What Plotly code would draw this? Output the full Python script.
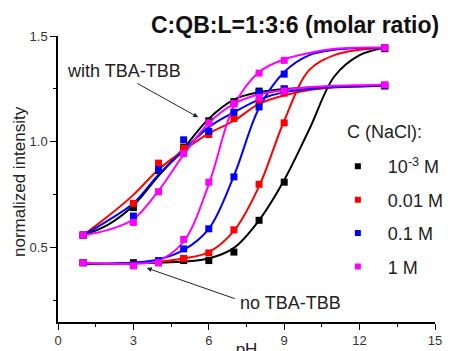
import plotly.graph_objects as go

# measured points
ph = [1, 3, 4, 5, 6, 7, 8, 9, 13]

# with TBA-TBB (upper set)
with_black = [0.56, 0.69, 0.865, 0.975, 1.10, 1.19, 1.24, 1.25, 1.265]
with_red = [0.56, 0.71, 0.90, 0.97, 1.035, 1.11, 1.19, 1.23, 1.265]
with_blue = [0.56, 0.65, 0.87, 1.01, 1.05, 1.14, 1.235, 1.25, 1.265]
with_magenta = [0.56, 0.62, 0.765, 0.945, 1.09, 1.18, 1.21, 1.24, 1.27]

# no TBA-TBB (lower set)
no_black = [0.43, 0.43, 0.43, 0.44, 0.44, 0.48, 0.63, 0.81, 1.44]
no_red = [0.43, 0.42, 0.43, 0.45, 0.476, 0.585, 0.80, 1.09, 1.445]
no_blue = [0.43, 0.42, 0.44, 0.495, 0.59, 0.835, 1.165, 1.32, 1.445]
no_magenta = [0.43, 0.415, 0.43, 0.54, 0.81, 1.18, 1.325, 1.385, 1.445]

# fitted curves, values at each integer pH
ph_fit = [1, 2, 3, 4, 5, 6, 7, 8, 9, 10, 11, 12, 13]
fit_with_black = [0.56, 0.61, 0.70, 0.84, 0.97, 1.11, 1.20, 1.235, 1.25, 1.257, 1.261, 1.263, 1.265]
fit_with_red = [0.56, 0.65, 0.75, 0.87, 0.96, 1.04, 1.10, 1.18, 1.22, 1.245, 1.257, 1.262, 1.265]
fit_with_blue = [0.56, 0.63, 0.71, 0.845, 0.96, 1.07, 1.14, 1.20, 1.235, 1.25, 1.259, 1.263, 1.265]
fit_with_magenta = [0.56, 0.585, 0.635, 0.77, 0.94, 1.09, 1.18, 1.225, 1.245, 1.258, 1.265, 1.268, 1.27]

fit_no_black = [0.425, 0.425, 0.427, 0.43, 0.435, 0.45, 0.50, 0.63, 0.82, 1.06, 1.31, 1.41, 1.445]
fit_no_red = [0.425, 0.425, 0.428, 0.435, 0.45, 0.48, 0.58, 0.79, 1.10, 1.34, 1.41, 1.435, 1.445]
fit_no_blue = [0.425, 0.425, 0.43, 0.445, 0.49, 0.59, 0.84, 1.16, 1.33, 1.41, 1.435, 1.443, 1.445]
fit_no_magenta = [0.43, 0.425, 0.425, 0.44, 0.53, 0.80, 1.17, 1.33, 1.39, 1.42, 1.44, 1.445, 1.445]

legend_names = ["10<sup>-3</sup> M", "0.01 M", "0.1 M", "1 M"]
colors = ["#000000", "#ff0000", "#0000ff", "#ff00ff"]

x_ticks = [0, 3, 6, 9, 12, 15]
y_ticks = [0.5, 1.0, 1.5]

fig = go.Figure()

points = [
    (with_black, no_black),
    (with_red, no_red),
    (with_blue, no_blue),
    (with_magenta, no_magenta),
]
fits = [
    (fit_with_black, fit_no_black),
    (fit_with_red, fit_no_red),
    (fit_with_blue, fit_no_blue),
    (fit_with_magenta, fit_no_magenta),
]

for (fw, fn), c in zip(fits, colors):
    for ys in (fn, fw):
        fig.add_trace(go.Scatter(
            x=ph_fit, y=ys, mode="lines",
            line=dict(color=c, width=2, shape="spline", smoothing=1.0),
            showlegend=False, hoverinfo="skip",
        ))

for (w, n), c in zip(points, colors):
    for ys in (n, w):
        fig.add_trace(go.Scatter(
            x=ph, y=ys, mode="markers",
            marker=dict(symbol="square", size=7, color=c),
            showlegend=False, hoverinfo="skip",
        ))

for name, c in zip(legend_names, colors):
    fig.add_trace(go.Scatter(
        x=[None], y=[None], mode="markers", name=name,
        marker=dict(symbol="square", size=6, color=c),
        legendgroup=name,
    ))

font_family = "Liberation Sans, Arial, sans-serif"

# the page body adds an 8px offset; margins compensate so the plot area
# lands where it is in the reference picture
fig.update_layout(
    width=453, height=351,
    margin=dict(l=50, r=16, t=28, b=37),
    plot_bgcolor="white", paper_bgcolor="white",
    font=dict(family=font_family, color="#222222"),
    showlegend=True,
    legend=dict(
        x=0.7158, y=0.608, xanchor="left", yanchor="top",
        bgcolor="rgba(0,0,0,0)",
        font=dict(size=18, color="#222222"),
        tracegroupgap=7,
        itemwidth=50,
        itemsizing="trace",
    ),
    xaxis=dict(
        range=[0, 15], tickvals=x_ticks, ticktext=[str(t) for t in x_ticks],
        showgrid=False, zeroline=False, automargin=False,
        showline=True, linecolor="black", linewidth=1.5,
        ticks="outside", ticklen=6, tickwidth=1.2, tickcolor="black",
        tickfont=dict(size=13, color="#333333"),
        minor=dict(tickvals=[1.5, 4.5, 7.5, 10.5, 13.5], ticks="outside", ticklen=3, tickwidth=1, tickcolor="black"),
        title=dict(text="pH", font=dict(size=17, color="#222222"), standoff=2),
    ),
    yaxis=dict(
        range=[0.15, 1.5], tickvals=y_ticks, ticktext=["0.5", "1.0", "1.5"],
        showgrid=False, zeroline=False, automargin=False,
        showline=True, linecolor="black", linewidth=1.5,
        ticks="outside", ticklen=6, tickwidth=1.2, tickcolor="black",
        tickfont=dict(size=13, color="#333333"),
        minor=dict(tickvals=[0.25, 0.75, 1.25], ticks="outside", ticklen=3, tickwidth=1, tickcolor="black"),
    ),
    annotations=[
        dict(text="normalized intensity", xref="paper", yref="paper",
             x=(19 - 58) / 387, y=(322 - 182) / 286, xanchor="center", yanchor="middle",
             textangle=-90, showarrow=False, font=dict(size=17, color="#222222")),
        dict(text="<b>C:QB:L=1:3:6 (molar ratio)</b>", xref="paper", yref="paper",
             x=1.0155, y=1.0, xanchor="right", yanchor="middle", yshift=11,
             showarrow=False, font=dict(size=23, color="#111111", family=font_family)),
        dict(text="C (NaCl):", xref="paper", yref="paper",
             x=(353 - 58) / 387, y=(322 - 132) / 286, xanchor="left", yanchor="middle",
             showarrow=False, font=dict(size=18, color="#222222")),
        dict(text="with TBA-TBB", x=2.64, y=1.334, xref="x", yref="y",
             showarrow=False, font=dict(size=18, color="#222222")),
        dict(text="", x=5.58, y=1.116, ax=3.1, ay=1.28, xref="x", yref="y", axref="x", ayref="y",
             showarrow=True, arrowhead=2, arrowsize=1, arrowwidth=1, arrowcolor="#222222"),
        dict(text="no TBA-TBB", x=9.26, y=0.239, xref="x", yref="y",
             showarrow=False, font=dict(size=18, color="#222222")),
        dict(text="", x=3.53, y=0.405, ax=7.09, ay=0.258, xref="x", yref="y", axref="x", ayref="y",
             showarrow=True, arrowhead=2, arrowsize=1, arrowwidth=1, arrowcolor="#222222"),
    ],
)

fig.write_html("out.html")
